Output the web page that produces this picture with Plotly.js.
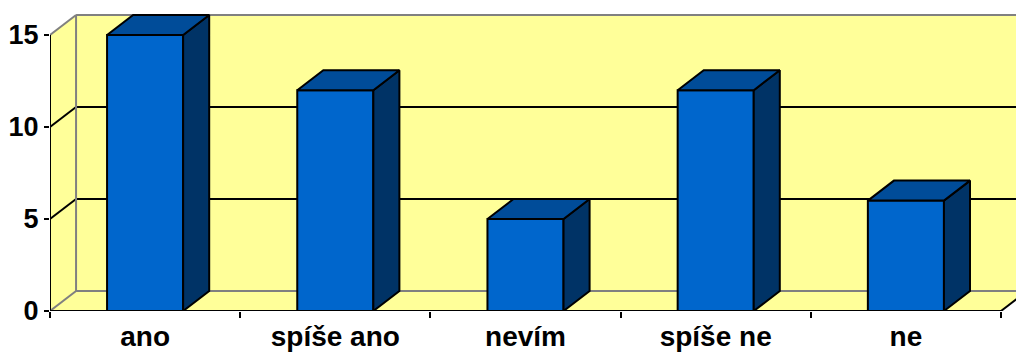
<!DOCTYPE html>
<html>
<head>
<meta charset="utf-8">
<script src="https://cdn.plot.ly/plotly-3.0.1.min.js"></script>
<style>html,body{margin:0;padding:0;background:#fff}#chart{width:1016px;height:353px}</style>
</head>
<body>
<div id="chart"></div>
<script>
// Survey answers and how many respondents gave each one
const categories = ['ano', 'spíše ano', 'nevím', 'spíše ne', 'ne'];
const counts = [15, 12, 5, 12, 6];
const valueTicks = [0, 5, 10, 15];

// Pseudo-3D look: depth of the box, in axis units
const depthX = 0.137;
const depthY = 1.087;
const barWidth = 0.4;
const xMin = -0.5, xMax = 4.5;

const positions = categories.map((_, i) => i);

// Top and side faces of each column, separated by nulls so each fills on its own
const faceX = [], faceY = [], topX = [], topY = [];
positions.forEach((p, i) => {
  const l = p - barWidth / 2, r = p + barWidth / 2, v = counts[i];
  faceX.push(r, r + depthX, r + depthX, r, r, null);
  faceY.push(0, depthY, v + depthY, v, 0, null);
  topX.push(l, l + depthX, r + depthX, r, l, null);
  topY.push(v, v + depthY, v + depthY, v, v, null);
});

const edge = {color: '#000', width: 2};
const traces = [
  {type: 'bar', x: positions, y: counts, width: barWidth,
   marker: {color: '#0066CC', line: edge}, hoverinfo: 'x+y'},
  {type: 'scatter', mode: 'lines', x: faceX, y: faceY, fill: 'toself',
   fillcolor: '#003366', line: edge, hoverinfo: 'skip'},
  {type: 'scatter', mode: 'lines', x: topX, y: topY, fill: 'toself',
   fillcolor: '#004C99', line: edge, hoverinfo: 'skip'}
];

// Walls and floor of the box
const wallFill = '#FFFF99', frameGrey = '#808080';
const topTick = valueTicks[valueTicks.length - 1];
const poly = (pts, fill) => ({type: 'path', xref: 'x', yref: 'y', layer: 'below',
  path: pts.map((q, i) => (i ? 'L' : 'M') + q[0] + ',' + q[1]).join(' ') + ' Z',
  fillcolor: fill, line: {width: 0}});
const seg = (x0, y0, x1, y1, color, width) => ({type: 'line', xref: 'x', yref: 'y', layer: 'below',
  x0, y0, x1, y1, line: {color, width}});

const shapes = [
  poly([[xMin, 0], [xMin + depthX, depthY], [xMin + depthX, topTick + depthY], [xMin, topTick]], wallFill),
  poly([[xMin + depthX, depthY], [xMax + depthX, depthY], [xMax + depthX, topTick + depthY], [xMin + depthX, topTick + depthY]], wallFill),
  poly([[xMin, 0], [xMax, 0], [xMax + depthX, depthY], [xMin + depthX, depthY]], wallFill)
];
// Interior gridlines run along the side wall and then across the back
valueTicks.forEach(v => {
  const c = (v === 0 || v === topTick) ? frameGrey : '#000';
  shapes.push(seg(xMin, v, xMin + depthX, v + depthY, c, 2));
  shapes.push(seg(xMin + depthX, v + depthY, xMax + depthX, v + depthY, c, 2));
});
shapes.push(seg(xMin + depthX, depthY, xMin + depthX, topTick + depthY, frameGrey, 2));
shapes.push(seg(xMin, 0, xMin, topTick, '#000', 2));
shapes.push(seg(xMax, 0, xMax + depthX, depthY, '#000', 2));
shapes.push(seg(xMin, 0, xMax, 0, '#000', 2));

const fontFamily = '"Liberation Sans", Arial, sans-serif';
const layout = {
  width: 1016, height: 353,
  margin: {l: 50, r: 0, t: 5, b: 42},
  paper_bgcolor: '#fff', plot_bgcolor: '#fff',
  showlegend: false,
  barmode: 'overlay',
  shapes,
  xaxis: {
    range: [xMin, xMin + 966 / 190.2],
    tickmode: 'array', tickvals: positions, ticktext: categories,
    ticks: '', showgrid: false, zeroline: false, showline: false,
    ticklabelstandoff: 6,
    tickfont: {family: fontFamily, size: 28, color: '#000', weight: 700},
    minor: {tickmode: 'array', tickvals: [-0.5, 0.5, 1.5, 2.5, 3.5, 4.5], ticks: 'outside',
      ticklen: 6, tickwidth: 2, tickcolor: '#000', showgrid: false}
  },
  yaxis: {
    range: [0, 306 / 18.4],
    tickmode: 'array', tickvals: valueTicks,
    ticks: 'outside', ticklen: 5, tickwidth: 2, tickcolor: '#000',
    showgrid: false, zeroline: false, showline: false,
    tickfont: {family: fontFamily, size: 27, color: '#000', weight: 700}
  }
};

Plotly.newPlot('chart', traces, layout, {displayModeBar: false, responsive: false});
</script>
</body>
</html>
